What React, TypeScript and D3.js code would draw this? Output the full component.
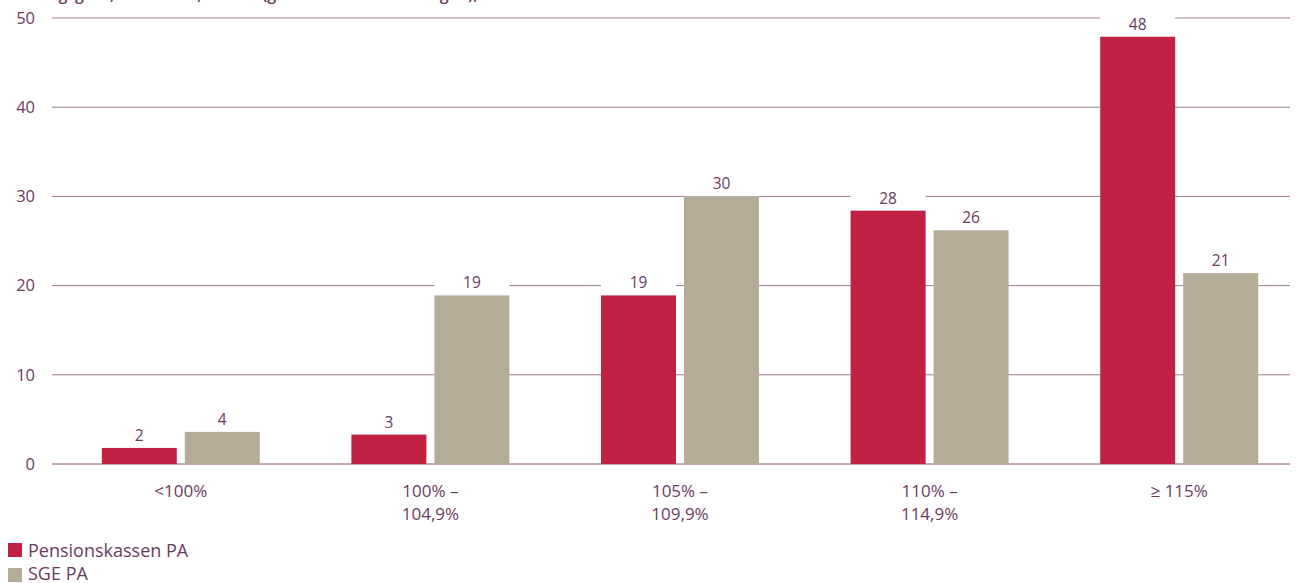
import React from "react";
import * as d3 from "d3";

const categories: string[][] = [["<100%"], ["100% –", "104,9%"], ["105% –", "109,9%"], ["110% –", "114,9%"], ["≥ 115%"]];
const seriesNames = ["Pensionskassen PA", "SGE PA"];
const pensionskassen = [1.8, 3.3, 18.9, 28.4, 47.9];
const sge = [3.6, 18.9, 30.0, 26.2, 21.4];
const yTicks = [0, 10, 20, 30, 40, 50];
const title = "Deckungsgrad, in Prozent, Anzahl (gewichtet nach Vermögen),";

const W = 1297;
const H = 583;
const RED = "#c12142";
const GRAY = "#b5ac97";
const TEXT = "#6b3b5e";
const GRID = "#9f7a91";
const FONT = "'Open Sans', 'Noto Sans', sans-serif";

export default function App() {
  const y = d3.scaleLinear().domain([0, 50]).range([464, 18]);
  const keys = categories.map((c) => c.join(" "));
  const x = d3.scaleBand<string>().domain(keys).range([56, 1304]);
  const inner = d3.scaleBand<number>().domain([0, 1]).range([0, 158]).paddingInner(8 / 83);
  const series = [pensionskassen, sge];
  const colors = [RED, GRAY];
  const fmt = d3.format(".0f");
  const gridX0 = 52;
  const gridX1 = 1290;

  return (
    <svg width={W} height={H} style={{ position: "absolute", left: 0, top: 0 }} fontFamily={FONT}>
      <text x={0} y={0} fontSize={16} fontWeight={600} fill={TEXT}>{title}</text>
      {yTicks.map((t) => (
        <g key={t}>
          <line x1={gridX0} x2={gridX1} y1={y(t)} y2={y(t)} stroke={t === 0 ? "#8a5577" : GRID} strokeWidth={1} />
          <text x={35} y={y(t)} dy="0.35em" textAnchor="end" fontSize={16.5} fill={TEXT}>{t}</text>
        </g>
      ))}
      {keys.map((k, i) => {
        const cx = (x(k) as number) + x.bandwidth() / 2;
        const start = cx - 79;
        return (
          <g key={k}>
            {series.map((s, j) => {
              const bx = start + (inner(j) as number);
              const bw = inner.bandwidth();
              const top = y(s[i]);
              return (
                <g key={j}>
                  <rect x={bx} y={top - 22} width={bw} height={22} fill="#fff" />
                  <rect x={bx} y={top} width={bw} height={y(0) - top} fill={colors[j]} />
                  <text x={bx + bw / 2} y={top - 7} textAnchor="middle" fontSize={15.5} fill={TEXT}>{fmt(s[i])}</text>
                </g>
              );
            })}
            <text x={cx} y={497} textAnchor="middle" fontSize={17} fill={TEXT}>
              {categories[i].map((line, li) => (
                <tspan key={li} x={cx} dy={li === 0 ? 0 : 23}>{line}</tspan>
              ))}
            </text>
          </g>
        );
      })}
      {seriesNames.map((n, j) => (
        <g key={n}>
          <rect x={8} y={543 + j * 25} width={14} height={14} fill={colors[j]} />
          <text x={28} y={557 + j * 23} fontSize={18} fill={TEXT}>{n}</text>
        </g>
      ))}
    </svg>
  );
}
